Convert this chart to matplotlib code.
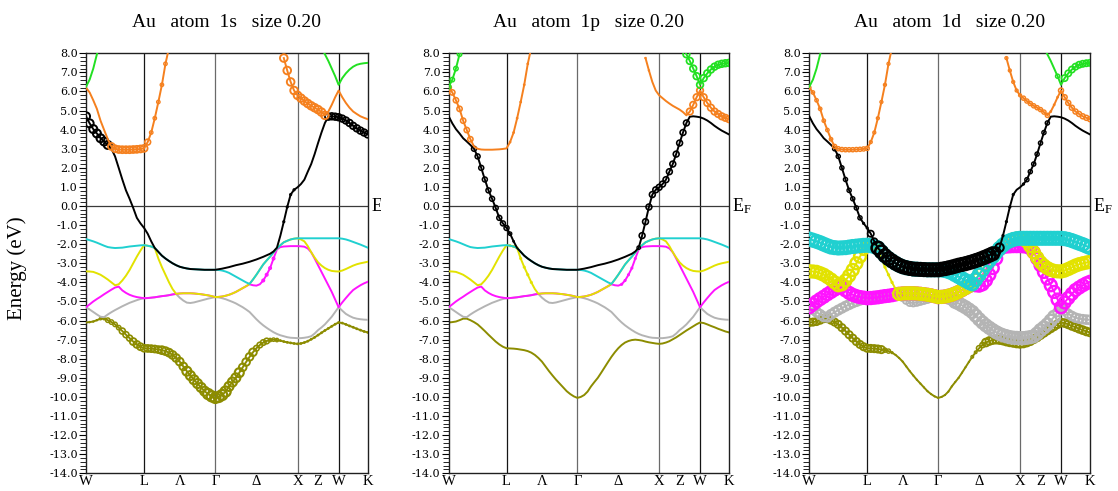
import numpy as np
import matplotlib
matplotlib.use('Agg')
import matplotlib.pyplot as plt
from matplotlib.ticker import MultipleLocator, FormatStrFormatter
from matplotlib.transforms import Bbox

plt.rcParams['font.family'] = ['Liberation Serif', 'DejaVu Serif']
plt.rcParams['axes.unicode_minus'] = False
plt.rcParams['mathtext.fontset'] = 'custom'
plt.rcParams['mathtext.rm'] = 'Liberation Serif'
plt.rcParams['mathtext.it'] = 'Liberation Serif'

nan = np.nan

# ---- k path ----
seg_k = [0.0, 0.707, 1.573, 2.573, 3.073, 3.427]      # W L Gamma X W K
seg_n = [16, 20, 24, 12, 8]                            # sampling intervals per segment
sym_labels = ['W', 'L', 'Λ', 'Γ', 'Δ', 'X', 'Z', 'W', 'K']
sym_k = [0.0, 0.707, 1.140, 1.573, 2.073, 2.573, 2.823, 3.073, 3.427]
vline_k = [0.707, 1.573, 2.573, 3.073]
vline_colors = ['#151515', '#6a6a6a', '#6a6a6a', '#151515']

# ---- band energies (eV); rows: W-L (17) | L-G (20) | G-X (24) | X-W (12) | W-K (8) ----
band_olive = [-6.10, -6.08, -6.05, -5.98, -5.90, -5.90, -5.98, -6.08, -6.20, -6.37, -6.55, -6.74, -6.92, -7.10, -7.25, -7.37, -7.45,
              -7.46, -7.47, -7.49, -7.52, -7.55, -7.60, -7.68, -7.80, -7.96, -8.15, -8.40, -8.65, -8.88, -9.10, -9.30, -9.50, -9.70, -9.85, -9.97, -10.05,
              -10.00, -9.90, -9.72, -9.45, -9.22, -9.00, -8.73, -8.45, -8.17, -7.90, -7.66, -7.45, -7.28, -7.15, -7.07, -7.02, -7.00, -7.02, -7.05, -7.10, -7.14, -7.17, -7.20, -7.22,
              -7.20, -7.15, -7.08, -6.98, -6.88, -6.76, -6.64, -6.52, -6.41, -6.30, -6.19, -6.10,
              -6.13, -6.20, -6.28, -6.35, -6.43, -6.50, -6.57, -6.62]
band_gray = [-5.30, -5.42, -5.55, -5.68, -5.80, -5.82, -5.68, -5.56, -5.45, -5.35, -5.25, -5.16, -5.07, -5.00, -4.93, -4.87, -4.83,
             -4.82, -4.80, -4.78, -4.75, -4.72, -4.70, -4.67, -4.63, -4.61, -4.80, -4.95, -5.06, -5.08, -5.05, -5.00, -4.95, -4.90, -4.85, -4.81, -4.77,
             -4.79, -4.83, -4.88, -4.95, -5.02, -5.10, -5.20, -5.30, -5.42, -5.55, -5.74, -5.93, -6.10, -6.25, -6.38, -6.50, -6.61, -6.70, -6.77, -6.82, -6.87, -6.90, -6.91, -6.92,
             -6.92, -6.90, -6.87, -6.82, -6.68, -6.50, -6.36, -6.20, -6.00, -5.80, -5.55, -5.30,
             -5.48, -5.65, -5.76, -5.85, -5.90, -5.93, -5.95, -5.96]
band_magenta = [-5.30, -5.15, -5.00, -4.87, -4.75, -4.62, -4.50, -4.38, -4.27, -4.22, -4.42, -4.55, -4.65, -4.72, -4.77, -4.80, -4.83,
                -4.82, -4.80, -4.78, -4.75, -4.72, -4.70, -4.67, -4.63, -4.60, -4.58, -4.57, -4.57, -4.57, -4.58, -4.60, -4.62, -4.65, -4.68, -4.72, -4.77,
                -4.76, -4.74, -4.70, -4.65, -4.58, -4.50, -4.40, -4.30, -4.20, -4.10, -4.15, -4.17, -4.10, -3.90, -3.60, -3.25, -2.75, -2.27, -2.15, -2.12, -2.11, -2.10, -2.10, -2.10,
                -2.11, -2.13, -2.22, -2.42, -2.75, -3.10, -3.45, -3.80, -4.15, -4.50, -4.90, -5.30,
                -5.05, -4.82, -4.60, -4.40, -4.27, -4.15, -4.05, -3.97]
band_yellow = [-3.42, -3.43, -3.45, -3.52, -3.60, -3.72, -3.85, -4.00, -4.15, -4.10, -3.90, -3.65, -3.35, -3.00, -2.65, -2.33, -2.05,
               -2.08, -2.12, -2.20, -2.75, -3.20, -3.60, -4.00, -4.35, -4.60, -4.58, -4.57, -4.57, -4.57, -4.58, -4.60, -4.62, -4.65, -4.68, -4.72, -4.77,
               -4.76, -4.74, -4.70, -4.65, -4.58, -4.50, -4.40, -4.30, -4.20, -4.08, -3.85, -3.60, -3.33, -3.06, -2.85, -2.65, -2.43, -2.22, -2.05, -1.90, -1.82, -1.75, -1.71, -1.69,
               -1.75, -1.85, -2.10, -2.42, -2.70, -2.95, -3.12, -3.25, -3.34, -3.40, -3.42, -3.43,
               -3.38, -3.30, -3.21, -3.12, -3.05, -3.00, -2.96, -2.92]
band_cyan = [-1.73, -1.79, -1.85, -1.92, -2.00, -2.08, -2.15, -2.18, -2.20, -2.19, -2.18, -2.15, -2.12, -2.10, -2.08, -2.06, -2.05,
             -2.08, -2.12, -2.20, -2.40, -2.60, -2.75, -2.88, -3.00, -3.10, -3.18, -3.23, -3.27, -3.30, -3.31, -3.32, -3.33, -3.34, -3.34, -3.34, -3.34,
             -3.35, -3.38, -3.43, -3.50, -3.60, -3.70, -3.80, -3.90, -4.00, -4.08, -3.85, -3.60, -3.33, -3.06, -2.85, -2.65, -2.43, -2.22, -2.05, -1.90, -1.82, -1.75, -1.71, -1.69,
             -1.69, -1.69, -1.69, -1.69, -1.69, -1.69, -1.69, -1.69, -1.69, -1.69, -1.69, -1.69,
             -1.71, -1.75, -1.81, -1.88, -1.95, -2.02, -2.10, -2.18]
band_black = [4.70, 4.33, 4.03, 3.80, 3.55, 3.38, 3.20, 3.00, 2.60, 2.00, 1.39, 0.82, 0.38, -0.10, -0.62, -0.91, -1.15,
              -1.45, -1.85, -2.20, -2.40, -2.60, -2.75, -2.88, -3.00, -3.10, -3.18, -3.23, -3.27, -3.30, -3.31, -3.32, -3.33, -3.34, -3.34, -3.34, -3.34,
              -3.31, -3.28, -3.24, -3.20, -3.15, -3.10, -3.06, -3.02, -2.97, -2.92, -2.86, -2.80, -2.73, -2.66, -2.58, -2.50, -2.38, -2.18, -1.55, -0.82, -0.05, 0.60, 0.85, 0.98,
              1.15, 1.38, 1.80, 2.20, 2.72, 3.30, 3.85, 4.35, 4.68, 4.70, 4.68, 4.65,
              4.58, 4.48, 4.35, 4.20, 4.07, 3.95, 3.85, 3.75]
band_orange = [6.20, 5.95, 5.54, 5.09, 4.47, 3.98, 3.50, 3.12, 3.00, 2.96, 2.95, 2.95, 2.95, 2.96, 2.97, 2.99, 3.02,
               3.35, 3.85, 4.60, 5.45, 6.35, 7.45, 8.30, nan, nan, nan, nan, nan, nan, nan, nan, nan, nan, nan, nan, nan,
               nan, nan, nan, nan, nan, nan, nan, nan, nan, nan, nan, nan, nan, nan, nan, nan, nan, nan, nan, 7.75, 7.10, 6.50, 6.05, 5.80,
               5.65, 5.50, 5.37, 5.25, 5.15, 5.05, 4.92, 4.75, 4.95, 5.30, 5.70, 6.05,
               5.70, 5.40, 5.15, 4.95, 4.82, 4.70, 4.62, 4.55]
band_green = [6.25, 6.62, 7.20, 7.95, 8.70, nan, nan, nan, nan, nan, nan, nan, nan, nan, nan, nan, nan,
              nan, nan, nan, nan, nan, nan, nan, nan, nan, nan, nan, nan, nan, nan, nan, nan, nan, nan, nan, nan,
              nan, nan, nan, nan, nan, nan, nan, nan, nan, nan, nan, nan, nan, nan, nan, nan, nan, nan, nan, nan, nan, nan, nan, nan,
              nan, nan, nan, nan, nan, 8.60, 8.30, 7.95, 7.60, 7.20, 6.80, 6.35,
              6.70, 6.95, 7.15, 7.30, 7.40, 7.45, 7.48, 7.50]

s_olive = [(0.00, 0.14, 0.10), (0.14, 0.25, 0.18), (0.25, 0.40, 0.32), (0.40, 0.55, 0.43),
           (0.55, 0.90, 0.50), (0.90, 1.20, 0.56), (1.20, 1.45, 0.65), (1.45, 1.70, 0.73),
           (1.70, 1.90, 0.65), (1.90, 2.05, 0.55), (2.05, 2.20, 0.40), (2.20, 2.35, 0.25),
           (2.35, 3.43, 0.12)]
s_gray, s_yellow, s_cyan, s_green = [], [], [], []
s_magenta = [(2.12, 2.32, 0.20)]
s_black = [(0.00, 0.27, 0.58), (2.40, 2.55, 0.15), (2.93, 3.43, 0.48)]
s_orange = [(0.30, 0.71, 0.50), (0.74, 0.76, 0.42), (0.78, 1.02, 0.25), (2.40, 2.92, 0.55)]

p_olive, p_gray, p_cyan = [], [], []
p_magenta = [(2.10, 2.32, 0.14)]
p_yellow = [(0.74, 1.05, 0.14)]
p_black = [(0.30, 0.71, 0.36), (0.74, 0.76, 0.25), (0.78, 0.80, 0.12),
           (2.30, 2.36, 0.25), (2.36, 2.92, 0.42)]
p_orange = [(0.00, 0.27, 0.38), (0.74, 1.05, 0.12), (2.40, 2.45, 0.10), (2.93, 3.43, 0.47)]
p_green = [(0.00, 0.14, 0.32), (2.82, 3.43, 0.48)]

d_olive = [(0.00, 0.90, 0.52), (0.90, 1.00, 0.30), (1.00, 1.05, 0.15), (1.05, 1.95, 0.08),
           (1.95, 2.05, 0.20), (2.05, 2.15, 0.38), (2.15, 3.43, 0.56)]
d_gray = [(0.00, 1.08, 0.65), (1.08, 1.57, 0.50), (1.58, 1.75, 0.65), (1.75, 3.00, 0.85),
          (3.00, 3.43, 0.62)]
d_magenta = [(0.00, 3.43, 0.85)]
d_yellow = [(0.00, 0.62, 0.85), (0.62, 0.80, 0.65), (0.80, 1.08, 0.15), (1.08, 3.43, 0.85)]
d_cyan = [(0.00, 3.43, 0.90)]
d_black = [(0.00, 0.27, 0.05), (0.30, 0.62, 0.30), (0.62, 0.72, 0.15), (0.74, 0.80, 0.45),
           (0.80, 2.28, 0.90), (2.28, 2.34, 0.60), (2.34, 2.50, 0.15), (2.60, 2.65, 0.15),
           (2.65, 2.92, 0.30), (2.93, 3.43, 0.05)]
d_orange = [(0.00, 0.28, 0.25), (0.30, 0.71, 0.30), (0.72, 1.02, 0.22), (2.40, 2.58, 0.22),
            (2.58, 2.92, 0.30), (2.93, 3.07, 0.12), (3.07, 3.43, 0.36)]
d_green = [(3.02, 3.07, 0.30), (3.08, 3.43, 0.45)]

titles = ['Au   atom  1s   size 0.20', 'Au   atom  1p   size 0.20', 'Au   atom  1d   size 0.20']
band_colors = ['#8c8c00', '#b4b4b4', '#ff14ff', '#e2e200', '#20d0d0', '#000000', '#f5801e', '#22e022']

bands = [band_olive, band_gray, band_magenta, band_yellow, band_cyan, band_black, band_orange, band_green]
runs_s = [s_olive, s_gray, s_magenta, s_yellow, s_cyan, s_black, s_orange, s_green]
runs_p = [p_olive, p_gray, p_magenta, p_yellow, p_cyan, p_black, p_orange, p_green]
runs_d = [d_olive, d_gray, d_magenta, d_yellow, d_cyan, d_black, d_orange, d_green]

# k grid
kpts = [np.linspace(seg_k[0], seg_k[1], seg_n[0] + 1)]
for i in range(1, len(seg_n)):
    kpts.append(np.linspace(seg_k[i], seg_k[i + 1], seg_n[i] + 1)[1:])
kpts = np.concatenate(kpts)


def weights_on_grid(runs):
    w = np.zeros_like(kpts)
    for k0, k1, v in runs:
        w[(kpts >= k0 - 1e-6) & (kpts <= k1 + 1e-6)] = v
    return w


W, H = 1118, 491
fig = plt.figure(figsize=(W / 100, H / 100), dpi=100)
rects = [(86, 281.7), (448.7, 280.3), (809.3, 280.7)]
top_px, bot_px = 53.3, 473.3
axes = [fig.add_axes([l / W, 1 - bot_px / H, w / W, (bot_px - top_px) / H]) for l, w in rects]

marker_scale = 10.0   # points of diameter per unit weight

for ax, runs, title in zip(axes, [runs_s, runs_p, runs_d], titles):
    for kv, vc in zip(vline_k, vline_colors):
        ax.axvline(kv, color=vc, lw=0.9, zorder=1)
    ax.axhline(0.0, color='#3a3a3a', lw=0.9, zorder=1)
    for b in range(8):
        e = np.array(bands[b], dtype=float)
        w = weights_on_grid(runs[b])
        c = band_colors[b]
        ax.plot(kpts, e, color=c, lw=1.4, zorder=2 + 2 * b, solid_joinstyle='round')
        m = (w >= 0.08) & ~np.isnan(e)
        if m.any():
            ax.scatter(kpts[m], e[m], s=(w[m] * marker_scale) ** 2, facecolors='none',
                       edgecolors=c, linewidths=0.6 + 1.4 * w[m], zorder=3 + 2 * b)
    ax.set_xlim(seg_k[0], seg_k[-1])
    ax.set_ylim(-14, 8)
    ax.set_xticks(sym_k)
    ax.set_xticklabels(sym_labels, fontsize=10.5)
    ax.tick_params(axis='x', length=0, pad=1)
    ax.yaxis.set_major_locator(MultipleLocator(1.0))
    ax.yaxis.set_minor_locator(MultipleLocator(0.2))
    ax.yaxis.set_major_formatter(FormatStrFormatter('%.1f'))
    ax.tick_params(axis='y', which='major', direction='out', length=5, width=0.8, pad=1)
    ax.tick_params(axis='y', which='minor', direction='out', length=4, width=0.6)
    for lab in ax.get_yticklabels():
        lab.set_fontfamily(['DejaVu Serif'])
        lab.set_fontsize(8)
    for sp in ax.spines.values():
        sp.set_linewidth(1.0)
        sp.set_color('#202020')
    ax.set_title(title, fontsize=14, pad=19)
    t = ax.text(1.011, 0.0, r'E$_{\mathrm{F}}$', transform=ax.get_yaxis_transform(),
                ha='left', va='center', fontsize=13)
    if ax is axes[0]:
        t.set_clip_box(Bbox([[0, 0], [381, H]]))
        t.set_clip_on(True)

fig.text(17 / W, 1 - 268 / H, 'Energy (eV)', rotation=90, ha='center', va='center', fontsize=15)

fig.savefig('out.png', dpi=100)
